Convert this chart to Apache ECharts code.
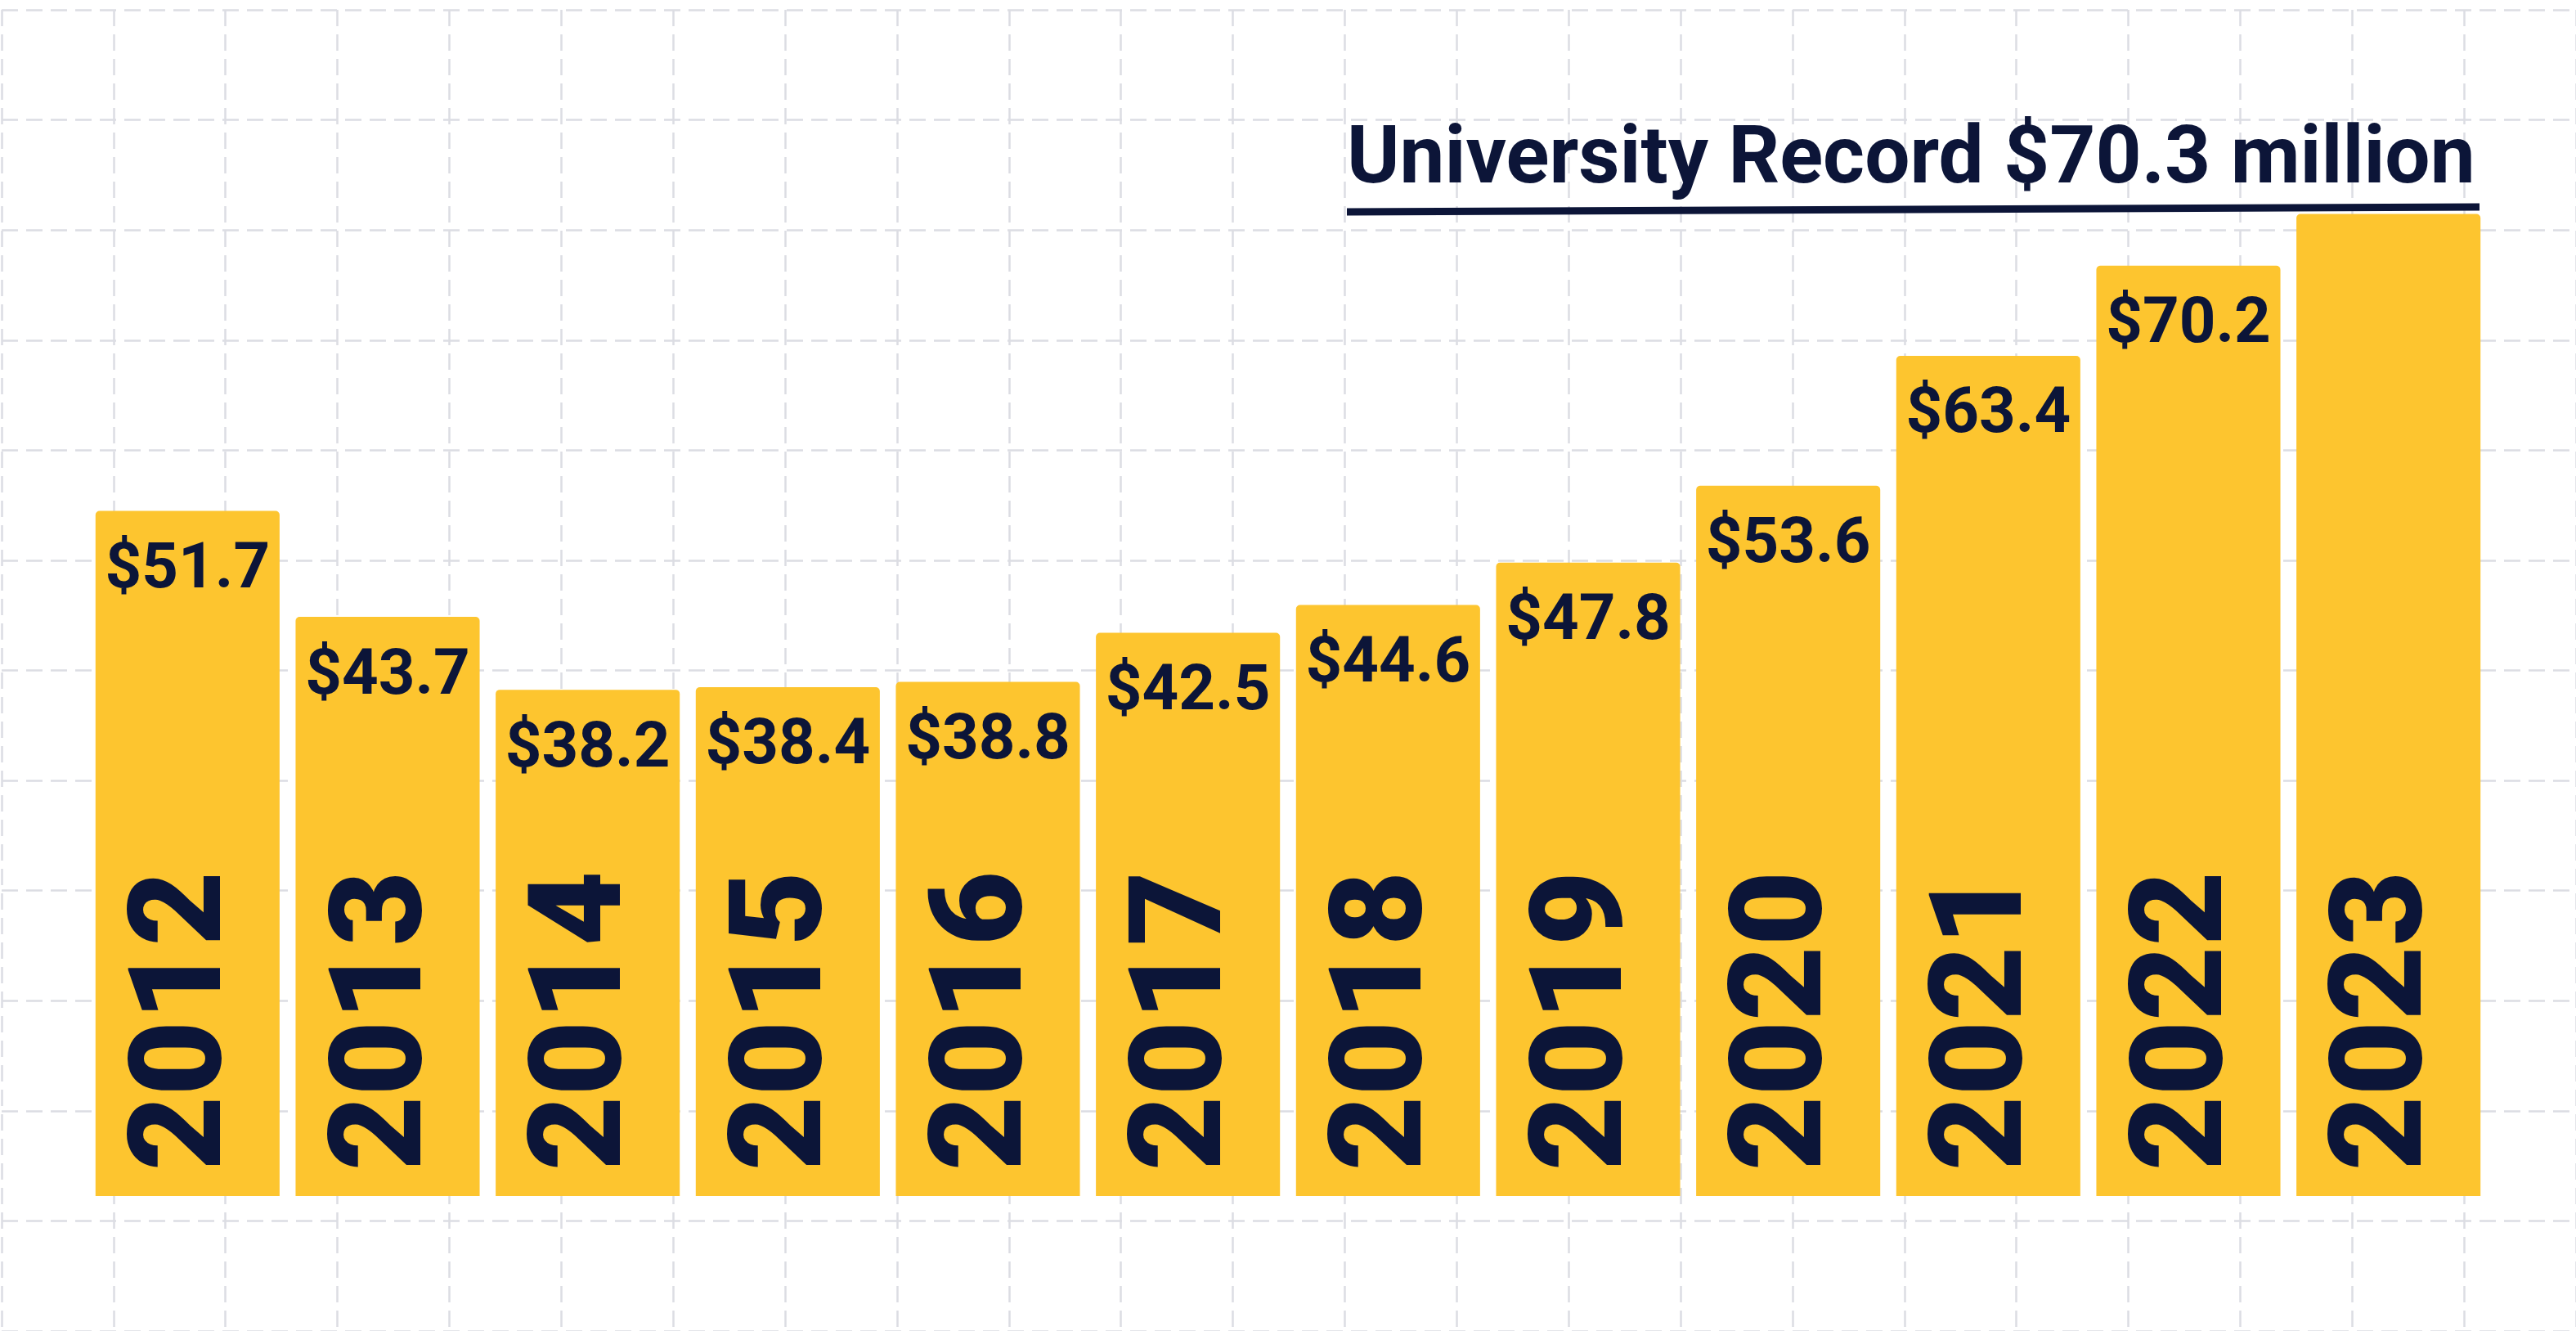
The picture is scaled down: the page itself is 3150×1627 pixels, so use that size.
<!DOCTYPE html>
<html>
<head>
<meta charset="utf-8">
<title>University Record</title>
<script src="https://cdn.jsdelivr.net/npm/echarts@6/dist/echarts.min.js"></script>
<style>
  html, body { margin: 0; padding: 0; background: #ffffff; }
  #chart { width: 3150px; height: 1627px; }
</style>
</head>
<body>
<div id="chart"></div>
<script>
// fiscal years
const years = ['2012', '2013', '2014', '2015', '2016', '2017', '2018', '2019', '2020', '2021', '2022', '2023']
// research funding, $ million (2023 bar is drawn up to the headline rule in the picture)
const values = [51.7, 43.7, 38.2, 38.4, 38.8, 42.5, 44.6, 47.8, 53.6, 63.4, 70.2, 74.1]
const labels = ['$51.7', '$43.7', '$38.2', '$38.4', '$38.8', '$42.5', '$44.6', '$47.8', '$53.6', '$63.4', '$70.2', '']
const headline = 'University Record $70.3 million'

const navy = '#0c1538'
const gold = '#fdc52f'

const chart = echarts.init(document.getElementById('chart'))

const option = {
  backgroundColor: '#ffffff',
  animation: false,
  grid: [
    { left: 107, right: 107, top: 166, bottom: 165 },
    // paper grid behind everything
    { left: 2, top: 12, width: 138.6 * 23, height: 138.6 * 12 }
  ],
  xAxis: [
    {
      type: 'category',
      data: years,
      gridIndex: 0,
      z: 10,
      axisLine: { show: false },
      axisTick: { show: false },
      axisLabel: {
        inside: true,
        rotate: 90,
        margin: 31,
        color: navy,
        fontFamily: 'Roboto',
        fontWeight: 900,
        fontSize: 158
      }
    },
    {
      type: 'value',
      gridIndex: 1,
      min: 0,
      max: 23,
      interval: 1,
      axisLine: { show: false },
      axisTick: { show: false },
      axisLabel: { show: false },
      splitLine: { lineStyle: { color: '#dcdde3', width: 2.5, type: [20, 10] } }
    }
  ],
  yAxis: [
    {
      type: 'value',
      gridIndex: 0,
      min: 0,
      max: 80,
      show: false,
      splitLine: { show: false }
    },
    {
      type: 'value',
      gridIndex: 1,
      min: 0,
      max: 12,
      interval: 1,
      inverse: true,
      axisLine: { show: false },
      axisTick: { show: false },
      axisLabel: { show: false },
      splitLine: { lineStyle: { color: '#dcdde3', width: 2.5, type: [20, 10] } }
    }
  ],
  series: [
    {
      type: 'bar',
      xAxisIndex: 0,
      yAxisIndex: 0,
      data: values,
      barCategoryGap: '8%',
      z: 2,
      itemStyle: { color: gold, borderRadius: [5, 5, 0, 0] },
      label: {
        show: true,
        position: 'insideTop',
        distance: 35,
        color: navy,
        fontFamily: 'Roboto',
        fontWeight: 'bold',
        fontSize: 78,
        formatter: p => labels[p.dataIndex]
      }
    }
  ],
  graphic: [
    {
      type: 'text',
      left: 1647,
      top: 149,
      z: 20,
      style: {
        text: headline,
        fill: navy,
        font: 'bold 98px Roboto'
      }
    },
    {
      type: 'line',
      z: 20,
      shape: { x1: 1647, y1: 259, x2: 3032, y2: 253 },
      style: { stroke: navy, lineWidth: 9 }
    }
  ]
}

chart.setOption(option)
</script>
</body>
</html>
